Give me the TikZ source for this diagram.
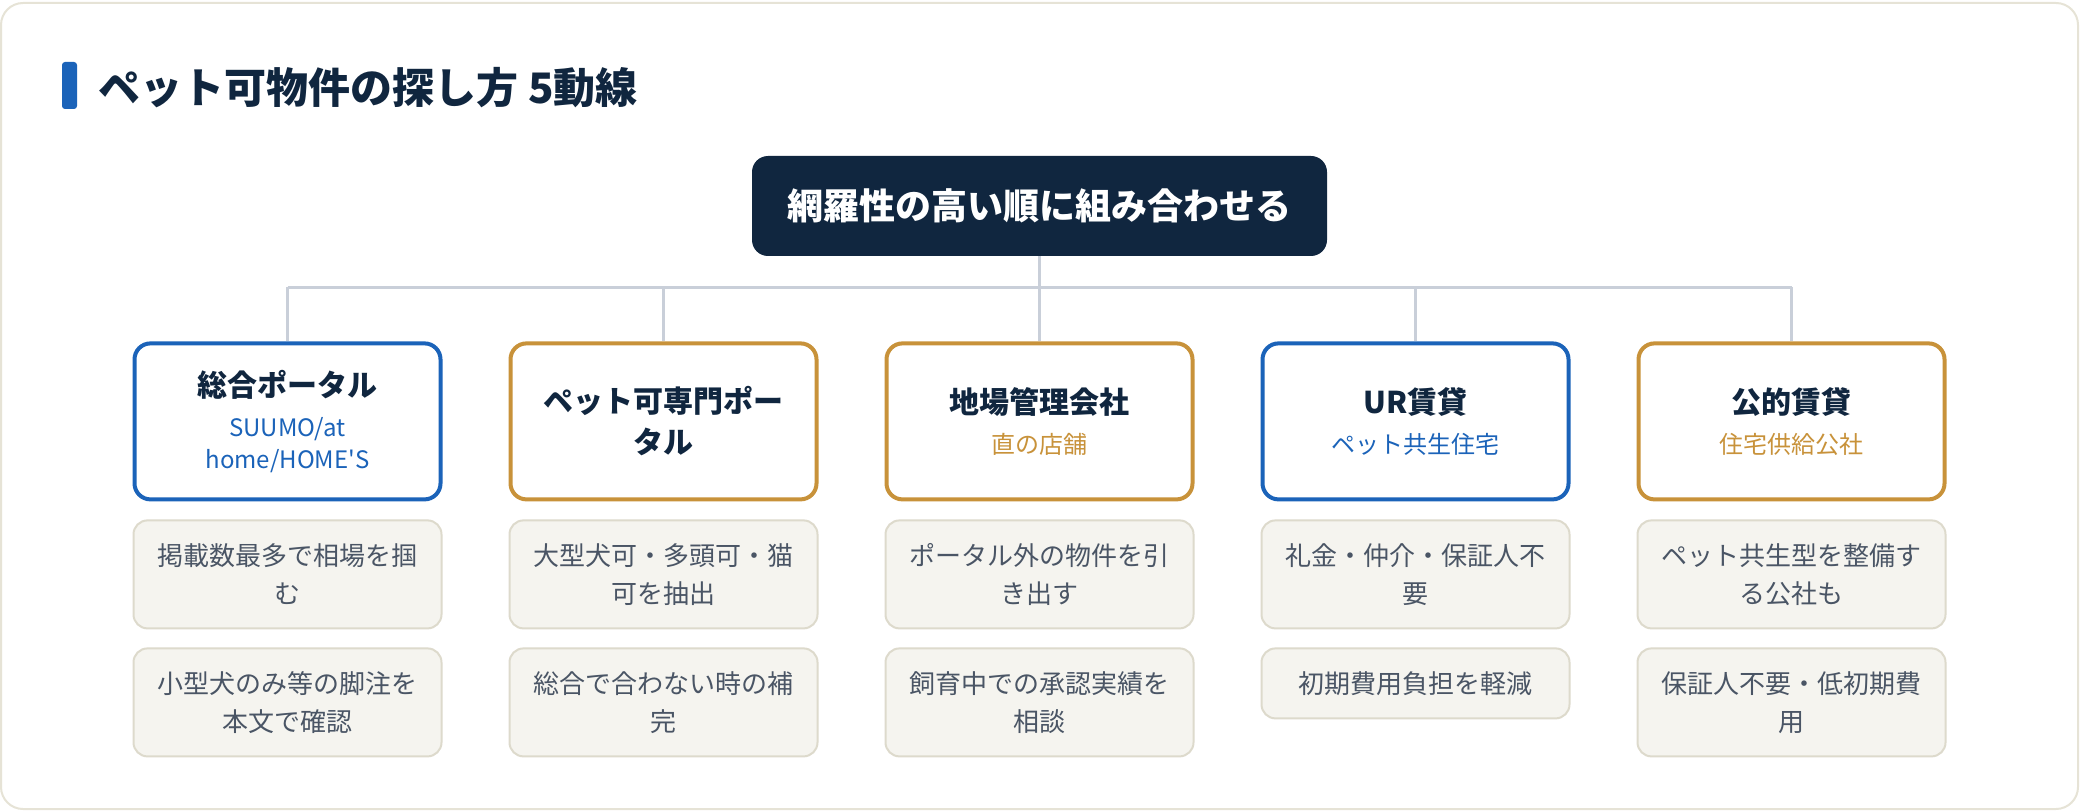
\documentclass[tikz,border=0pt]{standalone}
\usepackage{fontspec}
\setmainfont{Noto Sans CJK JP}
\usepackage{xcolor}
\usepackage{tikz}
\usetikzlibrary{positioning,calc}
\definecolor{ink}{HTML}{10263F}
\definecolor{accent}{HTML}{1B63B9}
\definecolor{gold}{HTML}{C8923A}
\definecolor{slate}{HTML}{4A5565}
\definecolor{notefill}{HTML}{F5F4EF}
\definecolor{noteline}{HTML}{DDDACC}
\definecolor{linkgray}{HTML}{C9CFD9}
\definecolor{frameline}{HTML}{E6E3D6}
\newcommand{\cardtitle}[1]{{\fontsize{15}{20}\selectfont\bfseries #1}}
\newcommand{\bluesub}[1]{\textcolor{accent}{#1}}
\newcommand{\goldsub}[1]{\textcolor{gold}{#1}}

\begin{document}
\begin{tikzpicture}[
  root/.style={fill=ink,rounded corners=8pt,minimum width=287.5pt,minimum height=50pt,
    text=white,font=\fontsize{18}{22}\selectfont\bfseries},
  card/.style={fill=white,line width=2pt,rounded corners=8pt,align=center,
    minimum width=153pt,minimum height=78pt,inner sep=2pt,text=ink,
    font=\fontsize{12}{16}\selectfont},
  bluecard/.style={card,draw=accent},
  goldcard/.style={card,draw=gold},
  note/.style={draw=noteline,fill=notefill,line width=1pt,rounded corners=7pt,align=center,
    minimum width=154pt,minimum height=54pt,inner sep=2pt,text=slate,
    font=\fontsize{13}{19}\selectfont},
  titlebar/.style={fill=accent,rounded corners=1.5pt,minimum width=7.5pt,minimum height=23.5pt,inner sep=0pt},
  link/.style={draw=linkgray,line width=1.5pt}
]
\useasboundingbox (0,0) rectangle (1040pt,-406pt);
\draw[frameline,fill=white,line width=1pt,rounded corners=11pt] (0.5pt,-1.5pt) rectangle (1039pt,-404.5pt);

\node[titlebar] (bar) at (34.75pt,-42.75pt) {};
\node[right=10.5pt of bar,yshift=-1pt,inner sep=0pt,text=ink,font=\fontsize{21}{25}\selectfont\bfseries] (title)
  {ペット可物件の探し方 5動線};

\node[root] (root) at (519.75pt,-103pt) {網羅性の高い順に組み合わせる};

\node[goldcard,below=42.5pt of root] (agent)
  {\cardtitle{地場管理会社}\\[4pt]\goldsub{直の店舗}};
\node[goldcard,left=33pt of agent,font=\fontsize{15}{20.5}\selectfont\bfseries] (petsite)
  {ペット可専門ポー\\タル};
\node[bluecard,left=33pt of petsite] (general)
  {\cardtitle{総合ポータル}\\[4pt]\bluesub{SUUMO/at}\\\bluesub{home/HOME\textquotesingle S}};
\node[bluecard,right=33pt of agent] (ur)
  {\cardtitle{UR賃貸}\\[4pt]\bluesub{ペット共生住宅}};
\node[goldcard,right=33pt of ur] (public)
  {\cardtitle{公的賃貸}\\[4pt]\goldsub{住宅供給公社}};

\coordinate (bus) at ($(root.south)+(0,-15.5pt)$);
\draw[link] (root.south) -- (bus);
\draw[link] (general.north |- bus) -- (public.north |- bus);
\foreach \x in {general,petsite,agent,ur,public}
  \draw[link] (\x.north |- bus) -- (\x.north);

% notes under each route
\node[note,below=9pt of general] (general-1) {掲載数最多で相場を掴\\む};
\node[note,below=9pt of general-1] (general-2) {小型犬のみ等の脚注を\\本文で確認};
\node[note,below=9pt of petsite] (petsite-1) {大型犬可・多頭可・猫\\可を抽出};
\node[note,below=9pt of petsite-1] (petsite-2) {総合で合わない時の補\\完};
\node[note,below=9pt of agent] (agent-1) {ポータル外の物件を引\\き出す};
\node[note,below=9pt of agent-1] (agent-2) {飼育中での承認実績を\\相談};
\node[note,below=9pt of ur] (ur-1) {礼金・仲介・保証人不\\要};
\node[note,below=9pt of ur-1,minimum height=35pt] (ur-2) {初期費用負担を軽減};
\node[note,below=9pt of public] (public-1) {ペット共生型を整備す\\る公社も};
\node[note,below=9pt of public-1] (public-2) {保証人不要・低初期費\\用};
\end{tikzpicture}
\end{document}
